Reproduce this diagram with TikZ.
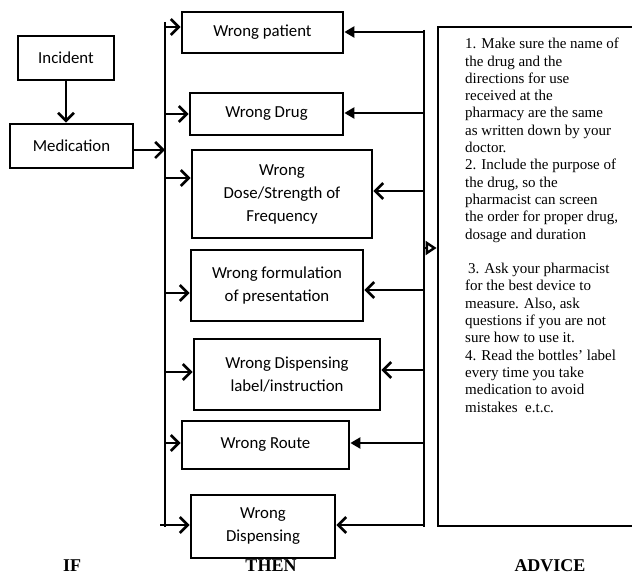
\documentclass[tikz,border=0pt]{standalone}
\usepackage{fontspec}
\setmainfont{Liberation Serif}
\newfontfamily\boxfont{Carlito}
\usetikzlibrary{arrows.meta}

\tikzset{
  errbox/.style={draw,line width=2.8pt,inner sep=0pt,align=center,
    font=\boxfont\fontsize{16.8}{23}\selectfont},
  barb/.style={line width=2.6pt,-{Straight Barb[length=8pt,width=16pt,line width=2.6pt]}},
  solid tip/.style={line width=2.6pt,-{Triangle[length=10pt,width=11pt]}},
  bus/.style={line width=2.6pt},
  heading/.style={font=\bfseries\fontsize{18}{20}\selectfont}
}

\begin{document}
\begin{tikzpicture}[x=1pt,y=-1pt]
\useasboundingbox (0,0) rectangle (632,577);
\clip (0,0) rectangle (632,577);

\node[errbox,minimum width=96pt,minimum height=44pt] (incident) at (66,58) {Incident};
\node[errbox,minimum width=123pt,minimum height=44pt] (medication) at (71.5,146) {Medication};

\node[errbox,minimum width=161pt,minimum height=41pt] (patient) at (262.5,32.5) {Wrong patient};
\node[errbox,minimum width=153pt,minimum height=42pt] (drug) at (266.5,114) {Wrong Drug};
\node[errbox,minimum width=180pt,minimum height=88pt] (dose) at (282,194) {Wrong\\Dose/Strength of\\Frequency};
\node[errbox,minimum width=172pt,minimum height=71pt] (formulation) at (277,285.5) {Wrong formulation\\of presentation};
\node[errbox,minimum width=186pt,minimum height=71pt] (label) at (287,374.5) {Wrong Dispensing\\label/instruction};
\node[errbox,minimum width=167pt,minimum height=48pt] (route) at (265.5,445) {Wrong Route};
\node[errbox,minimum width=144pt,minimum height=63pt] (dispensing) at (263,526.5) {Wrong\\Dispensing};

\node[draw,line width=2.8pt,minimum width=202pt,minimum height=499pt] (advice) at (539,276.5) {};
\node[anchor=north west,inner sep=0pt,align=left,
  font=\fontsize{15}{17.3}\selectfont] (advicetext) at (465,38) {%
1. Make sure the name of\\
the drug and the\\
directions for use\\
received at the\\
pharmacy are the same\\
as written down by your\\
doctor.\\
2. Include the purpose of\\
the drug, so the\\
pharmacist can screen\\
the order for proper drug,\\
dosage and duration\\
\mbox{}\\
\hspace{3pt}3. Ask your pharmacist\\
for the best device to\\
measure.  Also, ask\\
questions if you are not\\
sure how to use it.\\
4. Read the bottles' label\\
every time you take\\
medication to avoid\\
mistakes \ e.t.c.};

\coordinate (lefttop) at (165,22);
\coordinate (leftbot) at (165,527);
\coordinate (righttop) at (424,30);
\coordinate (rightbot) at (424,527);

\draw[barb] (incident.south) -- (incident.south |- medication.north);
\draw[barb] (medication.east |- 0,150) -- (lefttop |- 0,150);

\draw[bus] (lefttop) -- (leftbot);
\draw[barb] (lefttop |- 0,27) -- (patient.west |- 0,27);
\draw[barb] (lefttop |- 0,114) -- (drug.west |- 0,114);
\draw[barb] (lefttop |- 0,178) -- (dose.west |- 0,178);
\draw[barb] (lefttop |- 0,293) -- (formulation.west |- 0,293);
\draw[barb] (lefttop |- 0,372) -- (label.west |- 0,372);
\draw[barb] (lefttop |- 0,443) -- (route.west |- 0,443);
\draw[barb] (160,525) -- (dispensing.west |- 0,525);

\draw[bus] (righttop) -- (rightbot);
\draw[solid tip] (righttop |- 0,32) -- (patient.east |- 0,32);
\draw[solid tip] (righttop |- 0,113) -- (drug.east |- 0,113);
\draw[barb] (righttop |- 0,191) -- (dose.east |- 0,191);
\draw[barb] (righttop |- 0,290) -- (formulation.east |- 0,290);
\draw[barb] (righttop |- 0,370) -- (label.east |- 0,370);
\draw[solid tip] (righttop |- 0,443) -- (route.east |- 0,443);
\draw[barb] (righttop |- 0,525) -- (dispensing.east |- 0,525);
\draw[line width=2.4pt,-{Triangle[open,length=11pt,width=14pt,line width=2.4pt]}] (righttop |- 0,248) -- (advice.west |- 0,248);

\node[heading] (ifhead) at (72,566) {IF};
\node[heading] (thenhead) at (271,566) {THEN};
\node[heading] (advicehead) at (550,566) {ADVICE};
\end{tikzpicture}
\end{document}
